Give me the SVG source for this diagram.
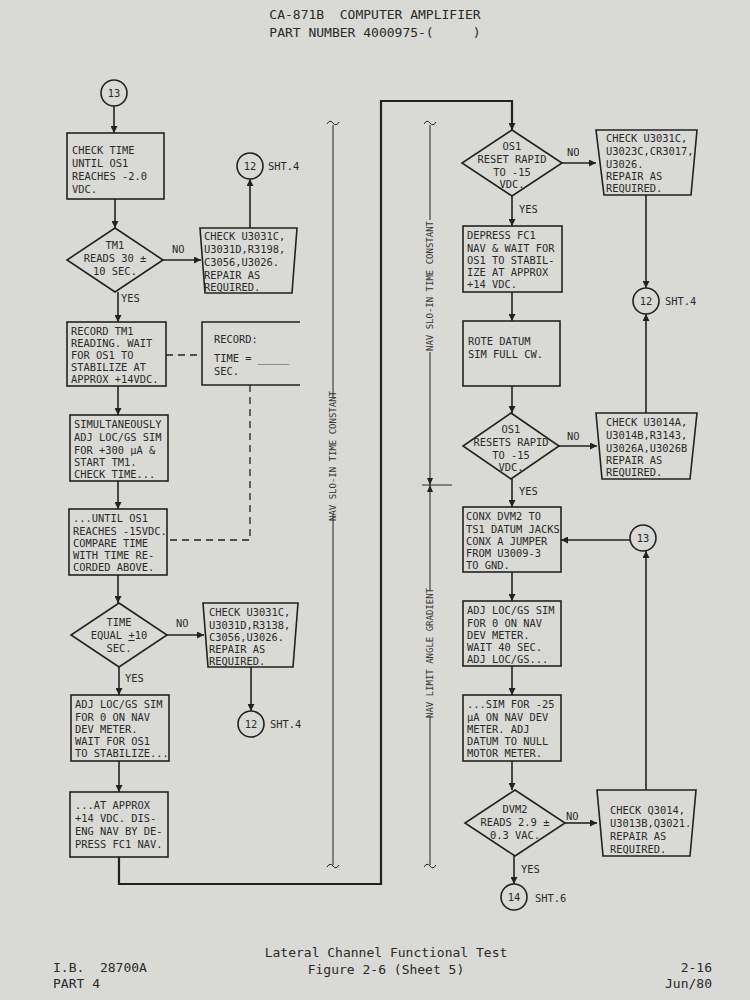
<svg xmlns="http://www.w3.org/2000/svg" width="750" height="1000" viewBox="0 0 750 1000">
<defs>
<marker id="ar" viewBox="0 0 10 10" refX="10" refY="5" markerWidth="7" markerHeight="7" orient="auto" markerUnits="userSpaceOnUse"><path d="M0,0L10,5L0,10z" fill="#222"/></marker>
<style>
.b{fill:none;stroke:#222;stroke-width:1.6}
.l{fill:none;stroke:#222;stroke-width:1.6}
.h{fill:none;stroke:#222;stroke-width:2.2}
.d{fill:none;stroke:#222;stroke-width:1.3;stroke-dasharray:7,5}
.t{font-family:"DejaVu Sans Mono","Liberation Mono",monospace;font-size:10.4px;fill:#2a2a2a}
.c{text-anchor:middle}
.s{font-family:"DejaVu Sans Mono","Liberation Mono",monospace;font-size:9px;fill:#333}
.f{font-family:"DejaVu Sans Mono","Liberation Mono",monospace;font-size:13px;fill:#2a2a2a;white-space:pre}
</style>
</defs>
<rect width="750" height="1000" fill="#d9d9d5"/>
<text class="f c" x="375" y="19" xml:space="preserve">CA-871B  COMPUTER AMPLIFIER</text>
<text class="f c" x="375" y="37" xml:space="preserve">PART NUMBER 4000975-(     )</text>

<g id="connectors">
<path class="l" d="M114,106V133" marker-end="url(#ar)"/>
<path class="l" d="M115,199V228" marker-end="url(#ar)"/>
<path class="l" d="M163,260H201" marker-end="url(#ar)"/>
<path class="l" d="M250,228V179" marker-end="url(#ar)"/>
<path class="l" d="M118,292V322" marker-end="url(#ar)"/>
<path class="l" d="M118,386V415" marker-end="url(#ar)"/>
<path class="l" d="M118,481V509" marker-end="url(#ar)"/>
<path class="l" d="M118,575V603" marker-end="url(#ar)"/>
<path class="l" d="M167,635H204" marker-end="url(#ar)"/>
<path class="l" d="M251,667V711" marker-end="url(#ar)"/>
<path class="l" d="M119,667V695" marker-end="url(#ar)"/>
<path class="l" d="M119,761V792" marker-end="url(#ar)"/>
<path class="h" d="M119,857V884H381V101H512V130" marker-end="url(#ar)"/>
<path class="d" d="M166,355H202"/>
<path class="d" d="M250,385V540H167"/>
<path class="l" d="M512,196V226" marker-end="url(#ar)"/>
<path class="l" d="M562,163H596" marker-end="url(#ar)"/>
<path class="l" d="M646,195V288" marker-end="url(#ar)"/>
<path class="l" d="M512,292V321" marker-end="url(#ar)"/>
<path class="l" d="M512,386V413" marker-end="url(#ar)"/>
<path class="l" d="M559,446H597" marker-end="url(#ar)"/>
<path class="l" d="M646,413V314" marker-end="url(#ar)"/>
<path class="l" d="M512,479V507" marker-end="url(#ar)"/>
<path class="l" d="M630,540H561" marker-end="url(#ar)"/>
<path class="l" d="M646,790V551" marker-end="url(#ar)"/>
<path class="l" d="M512,572V601" marker-end="url(#ar)"/>
<path class="l" d="M512,666V695" marker-end="url(#ar)"/>
<path class="l" d="M512,761V790" marker-end="url(#ar)"/>
<path class="l" d="M565,823H597" marker-end="url(#ar)"/>
<path class="l" d="M514,856V884" marker-end="url(#ar)"/>
<text class="t" x="172" y="253">NO</text>
<text class="t" x="121" y="302">YES</text>
<text class="t" x="176" y="627">NO</text>
<text class="t" x="125" y="682">YES</text>
<text class="t" x="567" y="156">NO</text>
<text class="t" x="519" y="213">YES</text>
<text class="t" x="567" y="440">NO</text>
<text class="t" x="519" y="495">YES</text>
<text class="t" x="566" y="820">NO</text>
<text class="t" x="521" y="873">YES</text>
</g>

<g id="dims">
<path class="l" d="M333,125V398M333,514V865" style="stroke-width:1"/>
<path class="l" d="M327,124q3,-5 6,-1t6,-1M327,867q3,-5 6,-1t6,-1" style="stroke-width:1"/>
<text class="s c" transform="translate(336,456) rotate(-90)">NAV SLO-IN TIME CONSTANT</text>
<path class="l" d="M430,125V220M430,352V485M430,485V590M430,716V865M422,485H452" style="stroke-width:1"/>
<path d="M427,478L430,485L433,478zM427,492L430,485L433,492z" fill="#222"/>
<path class="l" d="M424,124q3,-5 6,-1t6,-1M424,867q3,-5 6,-1t6,-1" style="stroke-width:1"/>
<text class="s c" transform="translate(433,286) rotate(-90)">NAV SLO-IN TIME CONSTANT</text>
<text class="s c" transform="translate(433,653) rotate(-90)">NAV LIMIT ANGLE GRADIENT</text>
</g>

<g id="n13a"><circle class="b" cx="114" cy="93" r="13"/><text class="t c" x="114" y="97">13</text></g>
<g id="b1"><rect class="b" x="67" y="133" width="97" height="66"/>
<text class="t" x="72" y="154">CHECK TIME</text><text class="t" x="72" y="167">UNTIL OS1</text><text class="t" x="72" y="180">REACHES -2.0</text><text class="t" x="72" y="193">VDC.</text></g>
<g id="d1"><path class="b" d="M115,228L163,260L115,292L67,260z"/>
<text class="t c" x="115" y="249">TM1</text><text class="t c" x="115" y="262">READS 30 ±</text><text class="t c" x="115" y="275">10 SEC.</text></g>
<g id="c1"><path class="b" d="M200,228H297L292,293H205z"/>
<text class="t" x="204" y="240">CHECK U3031C,</text><text class="t" x="204" y="253">U3031D,R3198,</text><text class="t" x="204" y="266">C3056,U3026.</text><text class="t" x="204" y="279">REPAIR AS</text><text class="t" x="204" y="291">REQUIRED.</text></g>
<g id="n12a"><circle class="b" cx="250" cy="166" r="13"/><text class="t c" x="250" y="170">12</text><text class="t" x="268" y="170">SHT.4</text></g>
<g id="b2"><rect class="b" x="67" y="322" width="99" height="64"/>
<text class="t" x="71" y="335">RECORD TM1</text><text class="t" x="71" y="347">READING. WAIT</text><text class="t" x="71" y="359">FOR OS1 TO</text><text class="t" x="71" y="371">STABILIZE AT</text><text class="t" x="71" y="383">APPROX +14VDC.</text></g>
<g id="rec"><path class="b" d="M300,322H202V385H300"/>
<text class="t" x="214" y="343">RECORD:</text><text class="t" x="214" y="362">TIME = _____</text><text class="t" x="214" y="375">SEC.</text></g>
<g id="b3"><rect class="b" x="70" y="415" width="98" height="66"/>
<text class="t" x="74" y="428">SIMULTANEOUSLY</text><text class="t" x="74" y="441">ADJ LOC/GS SIM</text><text class="t" x="74" y="454">FOR +300 μA &amp;</text><text class="t" x="74" y="466">START TM1.</text><text class="t" x="74" y="478">CHECK TIME...</text></g>
<g id="b4"><rect class="b" x="69" y="509" width="98" height="66"/>
<text class="t" x="73" y="522">...UNTIL OS1</text><text class="t" x="73" y="535">REACHES -15VDC.</text><text class="t" x="73" y="547">COMPARE TIME</text><text class="t" x="73" y="559">WITH TIME RE-</text><text class="t" x="73" y="571">CORDED ABOVE.</text></g>
<g id="d2"><path class="b" d="M119,603L167,635L119,667L71,635z"/>
<text class="t c" x="119" y="626">TIME</text><text class="t c" x="119" y="639">EQUAL <tspan text-decoration="underline">+</tspan>10</text><text class="t c" x="119" y="652">SEC.</text></g>
<g id="c2"><path class="b" d="M203,603H298L293,667H208z"/>
<text class="t" x="209" y="616">CHECK U3031C,</text><text class="t" x="209" y="629">U3031D,R3138,</text><text class="t" x="209" y="641">C3056,U3026.</text><text class="t" x="209" y="653">REPAIR AS</text><text class="t" x="209" y="665">REQUIRED.</text></g>
<g id="n12b"><circle class="b" cx="251" cy="724" r="13"/><text class="t c" x="251" y="728">12</text><text class="t" x="270" y="728">SHT.4</text></g>
<g id="b5"><rect class="b" x="71" y="695" width="98" height="66"/>
<text class="t" x="75" y="708">ADJ LOC/GS SIM</text><text class="t" x="75" y="721">FOR 0 ON NAV</text><text class="t" x="75" y="733">DEV METER.</text><text class="t" x="75" y="745">WAIT FOR OS1</text><text class="t" x="75" y="757">TO STABILIZE...</text></g>
<g id="b6"><rect class="b" x="70" y="792" width="98" height="65"/>
<text class="t" x="75" y="809">...AT APPROX</text><text class="t" x="75" y="822">+14 VDC. DIS-</text><text class="t" x="75" y="835">ENG NAV BY DE-</text><text class="t" x="75" y="848">PRESS FC1 NAV.</text></g>

<g id="d3"><path class="b" d="M512,130L562,163L512,196L462,163z"/>
<text class="t c" x="512" y="150">OS1</text><text class="t c" x="512" y="163">RESET RAPID</text><text class="t c" x="512" y="176">TO -15</text><text class="t c" x="512" y="188">VDC.</text></g>
<g id="c3"><path class="b" d="M596,130H697L691,195H604z"/>
<text class="t" x="606" y="142">CHECK U3031C,</text><text class="t" x="606" y="155">U3023C,CR3017,</text><text class="t" x="606" y="168">U3026.</text><text class="t" x="606" y="180">REPAIR AS</text><text class="t" x="606" y="192">REQUIRED.</text></g>
<g id="n12c"><circle class="b" cx="646" cy="301" r="13"/><text class="t c" x="646" y="305">12</text><text class="t" x="665" y="305">SHT.4</text></g>
<g id="b7"><rect class="b" x="463" y="226" width="99" height="66"/>
<text class="t" x="467" y="239">DEPRESS FC1</text><text class="t" x="467" y="252">NAV &amp; WAIT FOR</text><text class="t" x="467" y="264">OS1 TO STABIL-</text><text class="t" x="467" y="276">IZE AT APPROX</text><text class="t" x="467" y="288">+14 VDC.</text></g>
<g id="b8"><rect class="b" x="463" y="321" width="97" height="65"/>
<text class="t" x="468" y="345">ROTE DATUM</text><text class="t" x="468" y="358">SIM FULL CW.</text></g>
<g id="d4"><path class="b" d="M511,413L559,446L511,479L463,446z"/>
<text class="t c" x="511" y="433">OS1</text><text class="t c" x="511" y="446">RESETS RAPID</text><text class="t c" x="511" y="459">TO -15</text><text class="t c" x="511" y="471">VDC.</text></g>
<g id="c4"><path class="b" d="M596,413H697L690,479H602z"/>
<text class="t" x="606" y="426">CHECK U3014A,</text><text class="t" x="606" y="439">U3014B,R3143,</text><text class="t" x="606" y="452">U3026A,U3026B</text><text class="t" x="606" y="464">REPAIR AS</text><text class="t" x="606" y="476">REQUIRED.</text></g>
<g id="b9"><rect class="b" x="463" y="507" width="98" height="65"/>
<text class="t" x="466" y="520">CONX DVM2 TO</text><text class="t" x="466" y="533">TS1 DATUM JACKS</text><text class="t" x="466" y="545">CONX A JUMPER</text><text class="t" x="466" y="557">FROM U3009-3</text><text class="t" x="466" y="569">TO GND.</text></g>
<g id="n13b"><circle class="b" cx="643" cy="538" r="13"/><text class="t c" x="643" y="542">13</text></g>
<g id="b10"><rect class="b" x="463" y="601" width="98" height="65"/>
<text class="t" x="467" y="614">ADJ LOC/GS SIM</text><text class="t" x="467" y="627">FOR 0 ON NAV</text><text class="t" x="467" y="639">DEV METER.</text><text class="t" x="467" y="651">WAIT 40 SEC.</text><text class="t" x="467" y="663">ADJ LOC/GS...</text></g>
<g id="b11"><rect class="b" x="463" y="695" width="98" height="66"/>
<text class="t" x="467" y="708">...SIM FOR -25</text><text class="t" x="467" y="721">μA ON NAV DEV</text><text class="t" x="467" y="733">METER. ADJ</text><text class="t" x="467" y="745">DATUM TO NULL</text><text class="t" x="467" y="757">MOTOR METER.</text></g>
<g id="d5"><path class="b" d="M515,790L565,823L515,856L465,823z"/>
<text class="t c" x="515" y="813">DVM2</text><text class="t c" x="515" y="826">READS 2.9 ±</text><text class="t c" x="515" y="839">0.3 VAC.</text></g>
<g id="c5"><path class="b" d="M597,790H696L690,856H603z"/>
<text class="t" x="610" y="814">CHECK Q3014,</text><text class="t" x="610" y="827">U3013B,Q3021.</text><text class="t" x="610" y="840">REPAIR AS</text><text class="t" x="610" y="853">REQUIRED.</text></g>
<g id="n14"><circle class="b" cx="514" cy="897" r="13"/><text class="t c" x="514" y="901">14</text><text class="t" x="535" y="902">SHT.6</text></g>

<text class="f c" x="386" y="957">Lateral Channel Functional Test</text>
<text class="f c" x="386" y="974">Figure 2-6 (Sheet 5)</text>
<text class="f" x="53" y="972" xml:space="preserve">I.B.  28700A</text>
<text class="f" x="53" y="988">PART 4</text>
<text class="f" x="712" y="972" text-anchor="end">2-16</text>
<text class="f" x="712" y="988" text-anchor="end">Jun/80</text>
</svg>
